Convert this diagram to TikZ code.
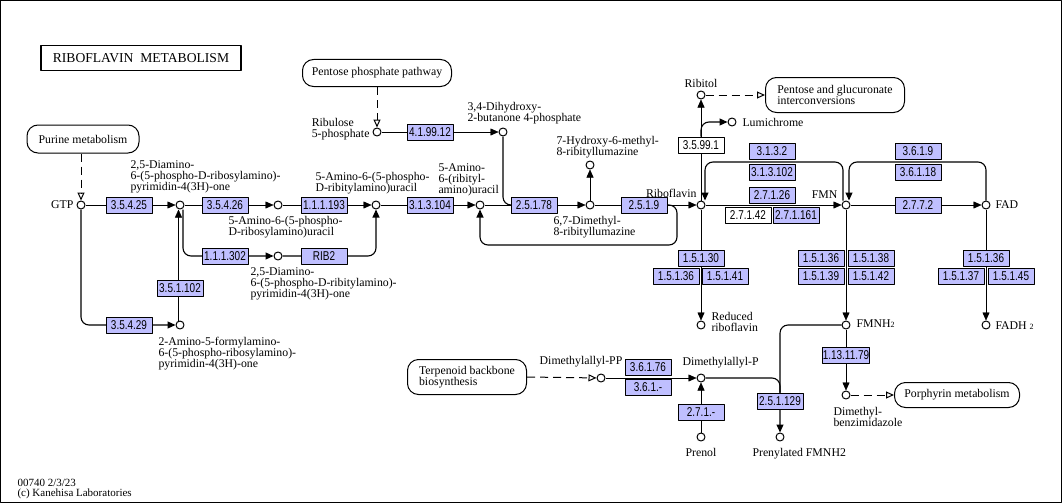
\documentclass[tikz,border=0pt]{standalone}
\usepackage{fontspec}
\setmainfont{Liberation Serif}
\newfontfamily\ecfamily[FakeStretch=0.78]{Liberation Sans}
\usetikzlibrary{arrows.meta}
\usetikzlibrary{positioning}
\usetikzlibrary{backgrounds}
\definecolor{ecblue}{HTML}{BFBFFF}
\newcommand{\cpdfont}{\fontsize{11.8}{11}\selectfont}
\newcommand{\ecfont}{\ecfamily\fontsize{12.8}{12.8}\selectfont}
\newcommand{\smalltwo}{{\fontsize{8}{8}\selectfont 2}}
\tikzset{
  cpd/.style={circle,draw,fill=white,inner sep=0pt,minimum size=8pt},
  ec/.style={draw,fill=ecblue,minimum width=46pt,minimum height=16pt,inner sep=0pt,font=\ecfont},
  ecw/.style={ec,fill=white},
  pmap/.style={draw,rounded corners=11pt,fill=white,font=\cpdfont,align=left,inner sep=0pt},
  lbl/.style={font=\cpdfont,align=left,inner sep=0pt},
  rx/.style={->,rounded corners=8pt,line width=1.1pt},
  lnk/.style={-{Triangle[open,length=8pt,width=7pt]},dash pattern=on 8pt off 5pt,line width=1pt}
}

\begin{document}
\begin{tikzpicture}[line cap=butt,line join=round,>={Triangle[length=8pt,width=7pt]},x=1pt,y=-1pt,line width=1pt]
\useasboundingbox (0,0) rectangle (1062,503);
\draw[line width=1pt] (0.5,0.5) rectangle (1061.5,502.5);
\node[draw,line width=1.8pt,minimum width=200pt,minimum height=25pt,font=\fontsize{13.6}{13.6}\selectfont] (title) at (141,58) {RIBOFLAVIN\ \ METABOLISM};

% compounds
\foreach \nm/\x/\y in {gtp/81/205,damrp/180/205,aru/278/205,aribu/376/205,arib/480/205,
  dml/590/205,hml/590/165,ribo/701/205,fmn/846/205,fad/986/205,ru5p/377/132,dhbp/503/132,
  ribitol/701/95,lumi/732/122,redribo/701/325,fmnh/846/325,fadh/986/325,damrt/278/256,
  afp/180/325,dmapp/601/378,dmap/701/378,prenol/701/437,prfmnh/780/437,dmb/846/395}
  \node[cpd] (\nm) at (\x,\y) {};

% compound names
\node[lbl,anchor=east] (lgtp) at (74,205) {GTP};
\node[lbl,anchor=south west] (ldamrp) at (130,194) {2,5-Diamino-\\6-(5-phospho-D-ribosylamino)-\\pyrimidin-4(3H)-one};
\node[lbl,anchor=north west] (laru) at (228,216) {5-Amino-6-(5-phospho-\\D-ribosylamino)uracil};
\node[lbl,anchor=south west] (laribu) at (315,195) {5-Amino-6-(5-phospho-\\D-ribitylamino)uracil};
\node[lbl,anchor=south west] (larib) at (438,197) {5-Amino-\\6-(ribityl-\\amino)uracil};
\node[lbl,anchor=north west] (ldml) at (553,216) {6,7-Dimethyl-\\8-ribityllumazine};
\node[lbl,anchor=south west] (lhml) at (556,159) {7-Hydroxy-6-methyl-\\8-ribityllumazine};
\node[lbl,anchor=south east] (lribo) at (697,198) {Riboflavin};
\node[lbl,anchor=south east] (lfmn) at (838,199) {FMN};
\node[lbl,anchor=west] (lfad) at (995,205) {FAD};
\node[lbl,anchor=east] (lru5p) at (370,129) {Ribulose\\5-phosphate};
\node[lbl,anchor=south west] (ldhbp) at (467,125) {3,4-Dihydroxy-\\2-butanone 4-phosphate};
\node[lbl,anchor=south] (lribitol) at (701,88) {Ribitol};
\node[lbl,anchor=west] (llumi) at (742,122) {Lumichrome};
\node[lbl,anchor=west] (lredribo) at (711,322) {Reduced\\riboflavin};
\node[lbl,anchor=west] (lfmnh) at (856,324) {FMNH\smalltwo};
\node[lbl,anchor=west] (lfadh) at (995,326) {FADH \smalltwo};
\node[lbl,anchor=north west] (ldamrt) at (250,267) {2,5-Diamino-\\6-(5-phospho-D-ribitylamino)-\\pyrimidin-4(3H)-one};
\node[lbl,anchor=north west] (lafp) at (158,337) {2-Amino-5-formylamino-\\6-(5-phospho-ribosylamino)-\\pyrimidin-4(3H)-one};
\node[lbl,anchor=south] (ldmapp) at (581,368) {Dimethylallyl-PP};
\node[lbl,anchor=south west] (ldmap) at (682,369) {Dimethylallyl-P};
\node[lbl,anchor=north] (lprenol) at (701,448) {Prenol};
\node[lbl,anchor=north west] (lprfmnh) at (752,448) {Prenylated FMNH2};
\node[lbl,anchor=north west] (ldmb) at (833,407) {Dimethyl-\\benzimidazole};

% other maps
\node[pmap,minimum width=112pt,minimum height=28pt] (purine) at (83,139) {Purine metabolism};
\node[pmap,minimum width=149pt,minimum height=27pt] (ppp) at (377,73) {Pentose phosphate pathway};
\node[pmap,minimum width=139pt,minimum height=35pt] (pgi) at (835,95) {Pentose and glucuronate\\interconversions};
\node[pmap,minimum width=119pt,minimum height=35pt] (terp) at (467,377) {Terpenoid backbone\\biosynthesis};
\node[pmap,minimum width=125pt,minimum height=25pt] (porph) at (957,395) {Porphyrin metabolism};

% enzymes
\foreach \nm/\x/\y/\txt in {e35425/129/205/3.5.4.25,e35426/225/205/3.5.4.26,e111193/324/205/1.1.1.193,
  e313104/430/205/3.1.3.104,e25178/534/205/2.5.1.78,e2519/644/205/2.5.1.9,e419912/430/132/4.1.99.12,
  e35429/129/325/3.5.4.29,e351102/180/288/3.5.1.102,e111302/225/256/1.1.1.302,erib/324/256/RIB2,
  e3132/772/151/3.1.3.2,e313102/772/172/3.1.3.102,e27126/772/195/2.7.1.26,e271161/796/215/2.7.1.161,
  e3619/918/151/3.6.1.9,e36118/918/172/3.6.1.18,e2772/918/205/2.7.7.2,
  e15130/701/258/1.5.1.30,e15136a/676/276/1.5.1.36,e15141/725/276/1.5.1.41,
  e15136b/821/258/1.5.1.36,e15138/871/258/1.5.1.38,e15139/821/276/1.5.1.39,e15142/871/276/1.5.1.42,
  e15136c/986/258/1.5.1.36,e15137/961/276/1.5.1.37,e15145/1011/276/1.5.1.45,
  e1131179/846/355/1.13.11.79,e36176/648/367/3.6.1.76,e361/648/387/3.6.1.-,
  e271/701/412/2.7.1.-,e251129/780/401/2.5.1.129}
  \node[ec] (\nm) at (\x,\y) {\txt};
\node[ecw] (e35991) at (701,145) {3.5.99.1};
\node[ecw] (e27142) at (748,215) {2.7.1.42};

\node[anchor=west,inner sep=0pt,font=\fontsize{11}{11}\selectfont] (ver) at (17,483) {00740 2/3/23};
\node[anchor=west,inner sep=0pt,font=\fontsize{11}{11}\selectfont] (copy) at (17,494) {(c) Kanehisa Laboratories};

\begin{scope}[on background layer]
% main row
\draw[->] (gtp) -- (damrp);
\draw[->] (damrp) -- (aru);
\draw[->] (aru) -- (aribu);
\draw[->] (aribu) -- (arib);
\draw[->] (arib) -- (dml);
\draw[->] (dml) -- (ribo);
\draw[->] (ribo) -- (fmn);
\draw[->] (fmn) -- (fad);
\draw[->] (dml) -- (hml);
\draw[->] (ru5p) -- (dhbp);
\draw[rounded corners=8pt,line width=1.1pt] (dhbp) |- (e25178.west);
\draw[rx] (e2519.east) -| (677,245) -| (arib.south);
% side branches of GTP
\draw[rx] (gtp.south) |- (afp);
\draw[->] ([xshift=-1.5pt]afp.north) -- ([xshift=-1.5pt]damrp.south);
\draw[rx] ([xshift=3pt]damrp.south) |- (damrt);
\draw[rx] (damrt) -| (aribu.south);
% riboflavin, FMN, FAD
\draw[->] (ribo) -- (ribitol);
\draw[rx] (e35991.north) |- (lumi);
\draw[rx] ([xshift=-3pt]fmn.north) |- (705,162) -- ([xshift=4pt]ribo.north);
\draw[rx] (fad.north) |- (849,162) -- ([xshift=3pt]fmn.north);
\draw[->] (ribo) -- (redribo);
\draw[->] (fmn) -- (fmnh);
\draw[->] (fad) -- (fadh);
\draw[->] (fmnh) -- (dmb);
% prenylation
\draw[->] (dmapp) -- (dmap);
\draw[->] (prenol) -- (dmap);
\draw[rounded corners=8pt,line width=1.1pt] (dmap) -| (e251129.north);
\draw[rx] (fmnh) -| (prfmnh.north);
% links to other maps
\draw[lnk] (purine.south -| gtp) -- (gtp.north);
\draw[lnk] (ppp.south) -- (ru5p.north);
\draw[lnk] (ribitol) -- (ribitol -| pgi.west);
\draw[lnk] (terp.east) -- (dmapp);
\draw[lnk] (dmb) -- (dmb -| porph.west);
\end{scope}
\end{tikzpicture}
\end{document}
